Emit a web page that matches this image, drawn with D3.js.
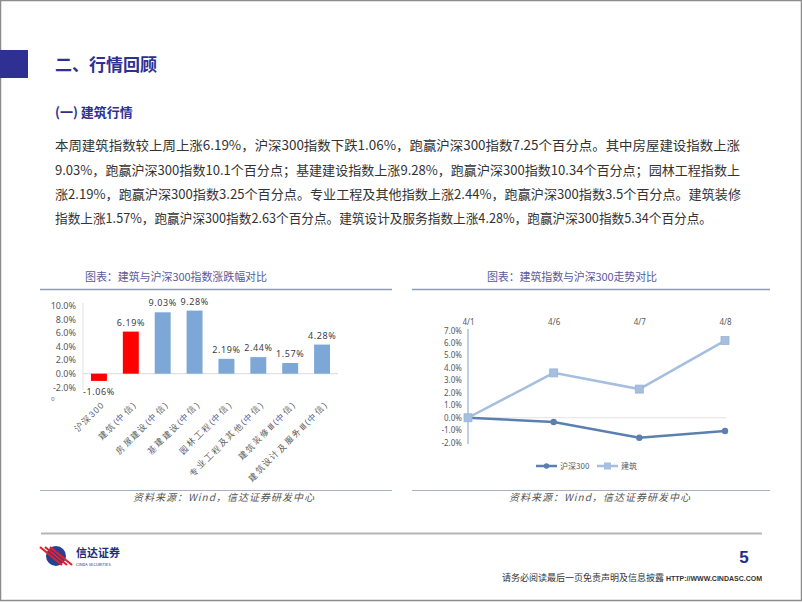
<!DOCTYPE html>
<html><head><meta charset="utf-8">
<script src="https://cdn.jsdelivr.net/npm/d3@7/dist/d3.min.js"></script>
<style>
body{margin:0;background:#fff;}
svg{display:block;font-family:"Noto Sans CJK SC","Noto Sans",sans-serif;}
</style></head>
<body><svg id="c" width="802" height="602"></svg>
<script>
// ---------- data ----------
const pageTitle = "二、行情回顾";
const sectionTitle = "(一) 建筑行情";
const paragraphLines = [
  "本周建筑指数较上周上涨6.19%，沪深300指数下跌1.06%，跑赢沪深300指数7.25个百分点。其中房屋建设指数上涨",
  "9.03%，跑赢沪深300指数10.1个百分点；基建建设指数上涨9.28%，跑赢沪深300指数10.34个百分点；园林工程指数上",
  "涨2.19%，跑赢沪深300指数3.25个百分点。专业工程及其他指数上涨2.44%，跑赢沪深300指数3.5个百分点。建筑装修",
  "指数上涨1.57%，跑赢沪深300指数2.63个百分点。建筑设计及服务指数上涨4.28%，跑赢沪深300指数5.34个百分点。"
];
const barTitle = "图表：建筑与沪深300指数涨跌幅对比";
const barCats = ["沪深300","建筑(中信)","房屋建设(中信)","基建建设(中信)","园林工程(中信)","专业工程及其他(中信)","建筑装修Ⅲ(中信)","建筑设计及服务Ⅲ(中信)"];
const barVals = [-1.06, 6.19, 9.03, 9.28, 2.19, 2.44, 1.57, 4.28];
const barTicks = [-2, 0, 2, 4, 6, 8, 10];

const lineTitle = "图表：建筑指数与沪深300走势对比";
const dates = ["4/1","4/6","4/7","4/8"];
const hs300 = [0, -0.34, -1.6, -1.06];
const jianzhu = [0, 3.6, 2.3, 6.19];
const lineTicks = [-2, -1, 0, 1, 2, 3, 4, 5, 6, 7];
const seriesNames = ["沪深300", "建筑"];

const sourceText = "资料来源：Wind，信达证券研发中心";
const pageNum = "5";
const footerText = "请务必阅读最后一页免责声明及信息披露";
const footerUrl = "HTTP://WWW.CINDASC.COM";
const logoName = "信达证券";
const logoSub = "CINDA SECURITIES";

// ---------- styles ----------
const BLUE = "#2E3192";
const RED = "#FF0000";
const STEEL = "#7DA7D6";
const HS_COL = "#5B80B0";
const JZ_COL = "#A6BEDF";
const pct = v => v.toFixed(1) + "%";

const svg = d3.select("#c");
svg.append("rect").attr("x",0.5).attr("y",0.5).attr("width",801).attr("height",600)
  .attr("fill","#fff").attr("stroke","#8c8c8c").attr("stroke-width",1.5);

// header
svg.append("rect").attr("x",0).attr("y",50).attr("width",28).attr("height",28).attr("fill",BLUE);
svg.append("text").attr("x",55).attr("y",71).attr("font-size",17).attr("font-weight","bold")
  .attr("fill",BLUE).text(pageTitle);
svg.append("text").attr("x",55).attr("y",117).attr("font-size",13).attr("font-weight","bold")
  .attr("fill",BLUE).text(sectionTitle);
const lineEnds = [740, 740, 741, 712];
const baseY = [150, 175, 199, 223];
paragraphLines.forEach((t,i)=>{
  svg.append("text").attr("x",55).attr("y",baseY[i]).attr("font-size",13).attr("fill","#333")
    .attr("textLength", lineEnds[i]-55).attr("lengthAdjust","spacingAndGlyphs").text(t);
});

// ---------- left chart ----------
const g1 = svg.append("g");
g1.append("text").attr("x",176).attr("y",281).attr("text-anchor","middle").attr("font-size",11)
  .attr("fill","#5a5a9c").attr("textLength",182).attr("lengthAdjust","spacing").text(barTitle);
g1.append("line").attr("x1",40).attr("x2",392).attr("y1",289.5).attr("y2",289.5).attr("stroke","#8e9db3").attr("stroke-width",1.5);
g1.append("line").attr("x1",40).attr("x2",392).attr("y1",490.5).attr("y2",490.5).attr("stroke","#a9b2c2").attr("stroke-width",1.2);
g1.append("text").attr("x",224).attr("y",501).attr("text-anchor","middle").attr("font-size",10)
  .attr("font-style","italic").attr("fill","#555").attr("letter-spacing",1).text(sourceText);

const xL = d3.scaleBand().domain(barCats).range([83, 338]).paddingInner(0.5).paddingOuter(0.25);
const yL = d3.scaleLinear().domain([-2, 10]).range([387.3, 305.7]);

g1.append("line").attr("x1",83).attr("x2",83).attr("y1",303).attr("y2",390).attr("stroke","#e2e2e2");
g1.append("line").attr("x1",83).attr("x2",338).attr("y1",yL(0)).attr("y2",yL(0)).attr("stroke","#d9d9d9");

const ay1 = g1.append("g").attr("transform","translate(80,0)")
  .call(d3.axisLeft(yL).tickValues(barTicks).tickSize(0).tickPadding(4).tickFormat(pct));
ay1.select(".domain").remove();
ay1.selectAll("text").attr("font-size",9).attr("fill","#595959").attr("font-family","Noto Sans, sans-serif");
g1.append("text").attr("x",51).attr("y",401).attr("font-size",6).attr("fill","#777").text("o");

g1.selectAll("rect.bar").data(barVals).enter().append("rect").attr("class","bar")
  .attr("x",(d,i)=>xL(barCats[i])).attr("width",xL.bandwidth())
  .attr("y",d=>yL(Math.max(0,d))).attr("height",d=>Math.abs(yL(d)-yL(0)))
  .attr("fill",(d,i)=> i<2 ? RED : STEEL);
g1.selectAll("text.val").data(barVals).enter().append("text").attr("class","val")
  .attr("x",(d,i)=>xL(barCats[i])+xL.bandwidth()/2)
  .attr("y",d=> d>=0 ? yL(d)-6 : yL(d)+14)
  .attr("text-anchor","middle").attr("font-size",9).attr("fill","#404040")
  .attr("font-family","Noto Sans, sans-serif").attr("letter-spacing",0.6)
  .text(d=>d.toFixed(2)+"%");

const ax1 = g1.append("g").attr("transform","translate(0,398)")
  .call(d3.axisBottom(xL).tickSize(0).tickPadding(0));
ax1.select(".domain").remove();
ax1.selectAll("text").attr("font-size",8.5).attr("fill","#595959").attr("letter-spacing",1.3)
  .attr("text-anchor","end").attr("dy","0.35em")
  .attr("transform","translate(4,5) rotate(-45)");

// ---------- right chart ----------
const g2 = svg.append("g");
g2.append("text").attr("x",572).attr("y",281).attr("text-anchor","middle").attr("font-size",11)
  .attr("fill","#5a5a9c").attr("textLength",170).attr("lengthAdjust","spacing").text(lineTitle);
g2.append("line").attr("x1",412).attr("x2",770).attr("y1",289.5).attr("y2",289.5).attr("stroke","#8e9db3").attr("stroke-width",1.5);
g2.append("line").attr("x1",412).attr("x2",770).attr("y1",490.5).attr("y2",490.5).attr("stroke","#a9b2c2").attr("stroke-width",1.2);
g2.append("text").attr("x",600).attr("y",501).attr("text-anchor","middle").attr("font-size",10)
  .attr("font-style","italic").attr("fill","#555").attr("letter-spacing",1).text(sourceText);

const xR = d3.scalePoint().domain(dates).range([468, 725]);
const yR = d3.scaleLinear().domain([-2, 7]).range([442.7, 330.5]);

g2.append("line").attr("x1",468).attr("x2",726).attr("y1",yR(0)).attr("y2",yR(0)).attr("stroke","#e3e3e3");
g2.append("line").attr("x1",468).attr("x2",468).attr("y1",329).attr("y2",444).attr("stroke","#A9C0DC").attr("stroke-width",1.5);

const ay2 = g2.append("g").attr("transform","translate(468,0)")
  .call(d3.axisLeft(yR).tickValues(lineTicks).tickSize(0).tickPadding(6).tickFormat(pct));
ay2.select(".domain").remove();
ay2.selectAll("text").attr("font-size",8).attr("fill","#595959").attr("font-family","Noto Sans, sans-serif");
const ax2 = g2.append("g").attr("transform","translate(0,327)")
  .call(d3.axisTop(xR).tickSize(0).tickPadding(2));
ax2.select(".domain").remove();
ax2.selectAll("text").attr("font-size",8).attr("fill","#595959").attr("font-family","Noto Sans, sans-serif");

const line = d3.line().x((d,i)=>xR(dates[i])).y(d=>yR(d));
g2.append("path").datum(hs300).attr("d",line).attr("fill","none").attr("stroke",HS_COL).attr("stroke-width",2.5);
g2.selectAll("circle.hs").data(hs300).enter().append("circle").attr("class","hs")
  .attr("cx",(d,i)=>xR(dates[i])).attr("cy",d=>yR(d)).attr("r",3.2).attr("fill",HS_COL);
g2.append("path").datum(jianzhu).attr("d",line).attr("fill","none").attr("stroke",JZ_COL).attr("stroke-width",2.5);
g2.selectAll("rect.jz").data(jianzhu).enter().append("rect").attr("class","jz")
  .attr("x",(d,i)=>xR(dates[i])-4).attr("y",d=>yR(d)-4).attr("width",8).attr("height",8)
  .attr("fill",JZ_COL).attr("stroke","#98B3D6").attr("stroke-width",0.8);

// legend
const lg = g2.append("g");
lg.append("line").attr("x1",536).attr("x2",557).attr("y1",466).attr("y2",466).attr("stroke",HS_COL).attr("stroke-width",2.5);
lg.append("circle").attr("cx",546.5).attr("cy",466).attr("r",2.8).attr("fill",HS_COL);
lg.append("text").attr("x",560).attr("y",469).attr("font-size",8).attr("fill","#595959").text(seriesNames[0]);
lg.append("line").attr("x1",597).attr("x2",618).attr("y1",466).attr("y2",466).attr("stroke",JZ_COL).attr("stroke-width",2.5);
lg.append("rect").attr("x",604).attr("y",462.5).attr("width",7).attr("height",7).attr("fill",JZ_COL);
lg.append("text").attr("x",621).attr("y",469).attr("font-size",8).attr("fill","#595959").text(seriesNames[1]);

// ---------- footer ----------
svg.append("line").attr("x1",41).attr("x2",762).attr("y1",533.5).attr("y2",533.5).attr("stroke","#b5b5b5").attr("stroke-width",2);
const logo = svg.append("g");
logo.append("circle").attr("cx",56).attr("cy",556).attr("r",10).attr("fill","#2a3f8f");
[-5,0,5].forEach(o=>{
  logo.append("line").attr("x1",45+o).attr("y1",547).attr("x2",67+o).attr("y2",565)
    .attr("stroke","#e8202a").attr("stroke-width",2.2);
});
logo.append("text").attr("x",76).attr("y",557).attr("font-size",11).attr("font-weight","bold").attr("fill","#1f2d7a").text(logoName);
logo.append("text").attr("x",76).attr("y",566).attr("font-size",4).attr("fill","#1f2d7a").text(logoSub);
svg.append("text").attr("x",744).attr("y",563).attr("text-anchor","middle").attr("font-size",17)
  .attr("font-weight","bold").attr("fill","#1f2d8a").attr("font-family","Liberation Sans, Arial, sans-serif").text(pageNum);
svg.append("text").attr("x",664).attr("y",581).attr("text-anchor","end").attr("font-size",9).attr("fill","#333").text(footerText);
svg.append("text").attr("x",762).attr("y",581).attr("text-anchor","end").attr("font-size",7).attr("font-weight","bold")
  .attr("fill","#333").attr("font-family","Liberation Sans, Arial, sans-serif").text(footerUrl);
</script></body></html>
